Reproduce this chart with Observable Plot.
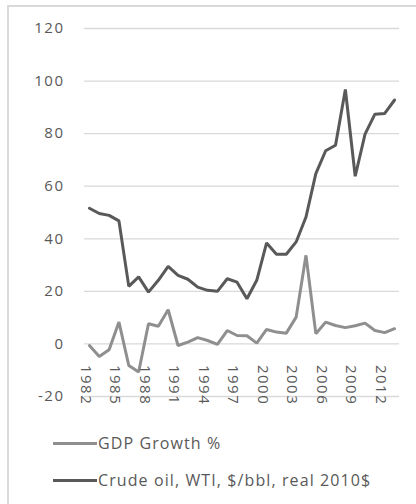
<!DOCTYPE html>
<html><head><meta charset="utf-8">
<script src="https://cdn.jsdelivr.net/npm/d3@7"></script>
<script src="https://cdn.jsdelivr.net/npm/@observablehq/plot@0.6"></script>
<style>
body{margin:0;background:#fff;width:416px;height:504px;overflow:hidden;position:relative;font-family:"Open Sans",sans-serif;}
#frame{position:absolute;left:7px;top:5px;width:440px;height:540px;border:2px solid #d9d9d9;box-sizing:border-box;}
#chart{position:absolute;left:0;top:0;}
#chart text{letter-spacing:1.5px;}
.item{position:absolute;left:53px;display:flex;align-items:center;height:24px;color:#595959;font-size:16px;letter-spacing:1.1px;}
.item .sw{width:44px;height:3px;margin-right:1px;}
</style></head>
<body>
<div id="frame"></div>
<div id="chart"></div>
<div class="item" style="top:431px"><div class="sw" style="background:#8f8f8f"></div><span>GDP Growth %</span></div>
<div class="item" style="top:468px"><div class="sw" style="background:#595959"></div><span>Crude oil, WTI, $/bbl, real 2010$</span></div>
<script>
const years = [1982,1983,1984,1985,1986,1987,1988,1989,1990,1991,1992,1993,1994,1995,1996,1997,1998,1999,2000,2001,2002,2003,2004,2005,2006,2007,2008,2009,2010,2011,2012,2013];
const gdpGrowth = [-0.6,-4.8,-2.2,8.3,-8.2,-10.7,7.7,6.7,13.0,-0.6,0.7,2.4,1.3,-0.2,5.1,3.2,3.1,0.3,5.5,4.5,4.1,10.2,33.7,3.9,8.3,7.0,6.2,6.9,7.9,5.1,4.3,5.8];
const crudeOil = [51.6,49.6,48.9,46.8,21.9,25.5,19.7,24.2,29.5,26.1,24.6,21.6,20.4,20.0,24.8,23.5,17.2,24.2,38.4,34.1,34.1,38.8,48.3,64.8,73.5,75.6,96.8,63.8,79.8,87.4,87.7,92.8];
const xTickLabels = [1982,1985,1988,1991,1994,1997,2000,2003,2006,2009,2012];
const yTicks = [-20,0,20,40,60,80,100,120];

const gdpData = years.map((y,i)=>({year:y, value:gdpGrowth[i]}));
const oilData = years.map((y,i)=>({year:y, value:crudeOil[i]}));

const chart = Plot.plot({
  width: 416,
  height: 420,
  marginLeft: 84,
  marginRight: 17,
  marginTop: 28,
  marginBottom: 24,
  style: {fontFamily: "'Open Sans', sans-serif", background: "transparent", overflow: "visible"},
  x: {type: "point", domain: years, padding: 0.5, round: false, axis: null},
  y: {domain: [-20, 120], axis: null},
  marks: [
    Plot.gridY(yTicks, {stroke: "#d9d9d9", strokeOpacity: 1, strokeWidth: 1.3}),
    Plot.axisY(yTicks, {tickSize: 0, tickPadding: 20, tickFormat: d => String(d), fontSize: 15, fill: "#595959", label: null, textStroke: "none"}),
    Plot.line(gdpData, {x: "year", y: "value", stroke: "#8f8f8f", strokeWidth: 3, strokeLinejoin: "miter"}),
    Plot.line(oilData, {x: "year", y: "value", stroke: "#595959", strokeWidth: 3, strokeLinejoin: "miter"}),
    Plot.text(xTickLabels, {x: d => d, y: d => 0, text: d => String(d), rotate: 90, textAnchor: "start", dy: 21, dx: -4, fontSize: 15, fill: "#595959"})
  ]
});
document.getElementById("chart").appendChild(chart);
</script>
</body></html>
